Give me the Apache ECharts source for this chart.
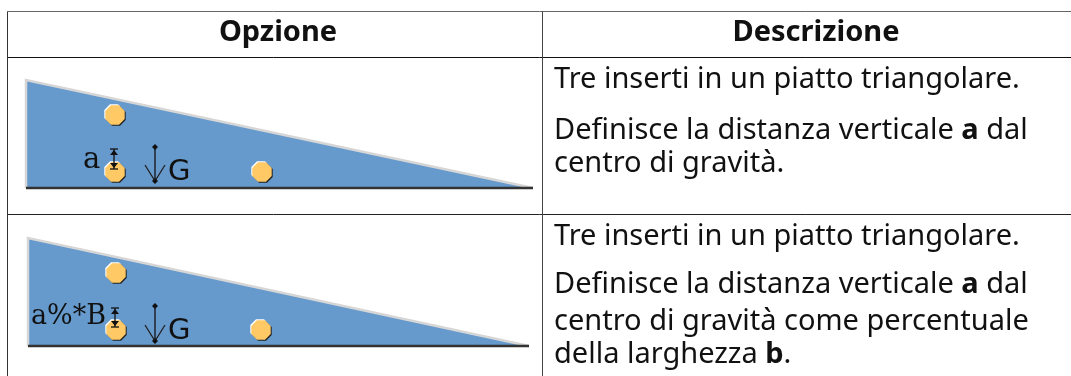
<!DOCTYPE html>
<html>
<head>
<meta charset="utf-8">
<style>
  html, body { margin: 0; padding: 0; background: #fff; }
  #chart { width: 1071px; height: 376px; }
</style>
<script src="https://cdn.jsdelivr.net/npm/echarts@6/dist/echarts.min.js"></script>
</head>
<body>
<div id="chart"></div>
<script>
// table text
const headers = ['Opzione', 'Descrizione']
const headerCentersX = [278, 816]
const descriptionRows = [
  ['Tre inserti in un piatto triangolare.', 'Definisce la distanza verticale {b|a} dal', 'centro di gravità.'],
  ['Tre inserti in un piatto triangolare.', 'Definisce la distanza verticale {b|a} dal', 'centro di gravità come percentuale', 'della larghezza {b|b}.']
]
const descriptionBaselines = [[88, 139, 172], [245, 293, 330, 363]]
const descriptionX = 554

// table rules: x1, y1, x2, y2
const topRule = [[7.5, 11.5], [1071, 11.5]]
const headerRule = [[7.5, 57.5], [1071, 57.5]]
const rowRule = [[7.5, 214.5], [1071, 214.5]]
const leftRule = [[7.5, 11.5], [7.5, 376]]
const columnRule = [[542.5, 11.5], [542.5, 376]]

// triangular plates: top-left corner, bottom-left corner, right corner
const plates = [
  [[26, 80], [26, 188], [533, 188]],
  [[28, 238], [28, 346], [529, 346]]
]
// inserts of each plate
const inserts = [
  [[115, 115], [115, 172], [262, 172]],
  [[116, 273], [116, 330], [261, 330]]
]
// G arrows: x, top y, bottom y
const gravityArrows = [[155, 147, 181], [155, 306, 341]]
const gravityLabels = [[168, 172], [168, 331]]
// dimension marks: x, top y, bottom y
const dimensions = [[114, 149, 169], [115, 308, 327]]
const dimensionLabels = [['a', 83, 160], ['a%*B', 31, 317]]

const chart = echarts.init(document.getElementById('chart'))

const textFont = '"Noto Sans", "Open Sans", sans-serif'
const ink = '#111'

function line(api, pts, stroke, width) {
  return {
    type: 'polyline',
    shape: { points: pts.map((p) => api.coord(p)) },
    style: { stroke, lineWidth: width, fill: null }
  }
}

function poly(api, pts, fill) {
  return {
    type: 'polygon',
    shape: { points: pts.map((p) => api.coord(p)) },
    style: { fill }
  }
}

function octagon(c, r) {
  const pts = []
  for (let i = 0; i < 8; i++) {
    const a = Math.PI / 8 + (i * Math.PI) / 4
    pts.push([c[0] + r * Math.cos(a), c[1] + r * Math.sin(a)])
  }
  return pts
}

function label(api, x, y, text, font, extra) {
  const p = api.coord([x, y])
  return {
    type: 'text',
    style: Object.assign({
      x: p[0],
      y: p[1],
      text,
      font,
      fill: ink,
      verticalAlign: 'middle'
    }, extra)
  }
}

function renderTable(params, api) {
  const children = []
  children.push(line(api, topRule, '#666', 1))
  children.push(line(api, headerRule, '#111', 1))
  children.push(line(api, rowRule, '#222', 1))
  children.push(line(api, leftRule, '#333', 1))
  children.push(line(api, columnRule, '#444', 1))
  headers.forEach((h, i) => {
    children.push(label(api, headerCentersX[i], 33, h, 'bold 29px ' + textFont, { align: 'center' }))
  })
  descriptionRows.forEach((row, r) => {
    row.forEach((txt, l) => {
      children.push(label(api, descriptionX, descriptionBaselines[r][l] - 8, txt, '29px ' + textFont, {
        rich: { b: { font: 'bold 29px ' + textFont, fill: ink } }
      }))
    })
  })
  return { type: 'group', children }
}

function renderPlates(params, api) {
  const children = []
  plates.forEach((tri, i) => {
    children.push(poly(api, tri, '#6699cc'))
    children.push(line(api, [tri[2], tri[0], tri[1]], '#d6d6d6', 2.5))
    children.push(line(api, [tri[1], tri[2]], '#333', 2.5))
    inserts[i].forEach((c) => {
      children.push(poly(api, octagon([c[0] - 1, c[1] - 1], 10.5), '#fff'))
      children.push(poly(api, octagon([c[0] + 1, c[1] + 1], 10.5), '#222'))
      children.push(poly(api, octagon(c, 10.5), '#ffc966'))
    })
    const g = gravityArrows[i]
    children.push(line(api, [[g[0], g[1]], [g[0], g[2]]], '#111', 1.3))
    children.push(line(api, [[g[0] - 10, g[2] - 16], [g[0], g[2]], [g[0] + 10, g[2] - 16]], '#222', 1.3))
    children.push(poly(api, [[g[0], g[1] - 3], [g[0] + 3, g[1]], [g[0], g[1] + 3], [g[0] - 3, g[1]]], '#111'))
    children.push(poly(api, [[g[0], g[2] - 3], [g[0] + 3, g[2]], [g[0], g[2] + 3], [g[0] - 3, g[2]]], '#111'))
    children.push(label(api, gravityLabels[i][0], gravityLabels[i][1], 'G', '29px "DejaVu Sans", sans-serif'))
    const d = dimensions[i]
    children.push(line(api, [[d[0], d[1]], [d[0], d[2]]], '#111', 1.3))
    children.push(line(api, [[d[0] - 4, d[1]], [d[0] + 4, d[1]]], '#111', 1.3))
    children.push(line(api, [[d[0] - 4, d[2]], [d[0] + 4, d[2]]], '#111', 1.3))
    children.push(poly(api, [[d[0], d[1] + 1], [d[0] + 4, d[1] + 6], [d[0] - 4, d[1] + 6]], '#111'))
    children.push(poly(api, [[d[0], d[2] - 1], [d[0] + 4, d[2] - 6], [d[0] - 4, d[2] - 6]], '#111'))
    const l = dimensionLabels[i]
    children.push(label(api, l[1], l[2], l[0], (i === 0 ? '29px' : '27px') + ' "DejaVu Serif", serif'))
  })
  return { type: 'group', children }
}

chart.setOption({
  animation: false,
  backgroundColor: '#fff',
  grid: { left: 0, right: 0, top: 0, bottom: 0 },
  xAxis: { type: 'value', min: 0, max: 1071, show: false },
  yAxis: { type: 'value', min: 0, max: 376, inverse: true, show: false },
  series: [
    { type: 'custom', silent: true, clip: false, data: [0], renderItem: renderPlates },
    { type: 'custom', silent: true, clip: false, data: [0], renderItem: renderTable }
  ]
})
</script>
</body>
</html>
